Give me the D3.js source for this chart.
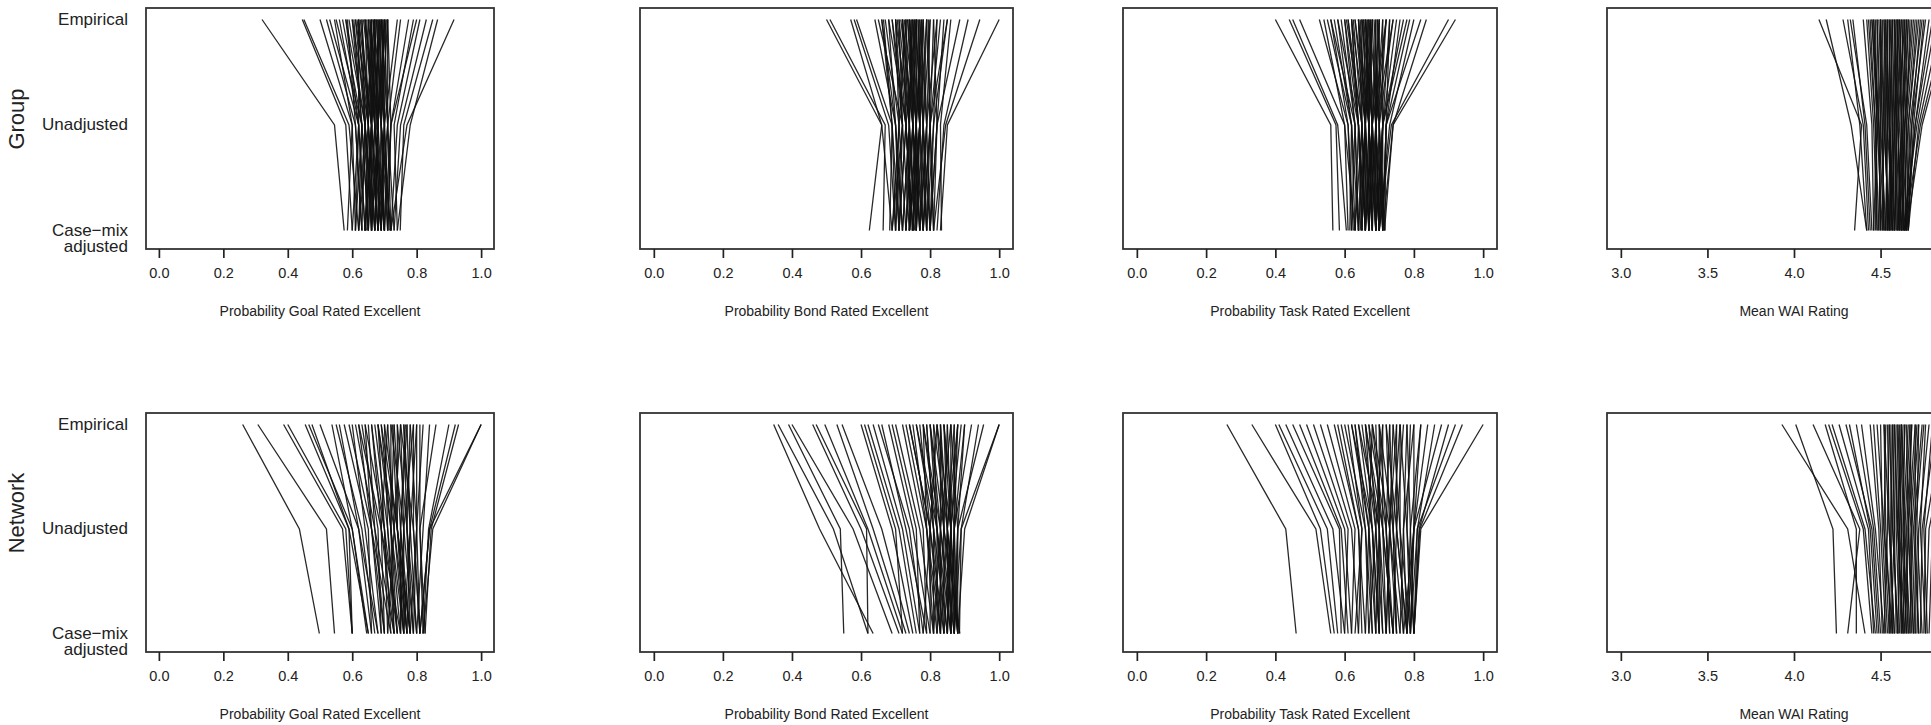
<!DOCTYPE html>
<html>
<head>
<meta charset="utf-8">
<script src="https://cdn.jsdelivr.net/npm/d3@7"></script>
<style>
  html, body { margin: 0; padding: 0; background: #fff; }
  svg { display: block; font-family: "Liberation Sans", Arial, sans-serif; }
</style>
</head>
<body>
<svg id="chart" width="1931" height="725"></svg>
<script>
// ---- categories / labels ----
const stages = ["Empirical", "Unadjusted", "Case-mix"];
const stageLabels = [["Empirical"], ["Unadjusted"], ["Case\u2212mix", "adjusted"]];
const rowLabels = ["Group", "Network"];
const xTitles = ["Probability Goal Rated Excellent", "Probability Bond Rated Excellent",
                 "Probability Task Rated Excellent", "Mean WAI Rating"];
const probTicks = [0.0, 0.2, 0.4, 0.6, 0.8, 1.0];
const waiTicks = [3.0, 3.5, 4.0, 4.5, 5.0];

// ---- data: each line = [empirical, unadjusted, case-mix adjusted] ----
const groupGoal = [
 [0.32,0.545,0.575],[0.445,0.58,0.60],[0.45,0.59,0.62],[0.50,0.60,0.585],[0.52,0.61,0.63],
 [0.53,0.62,0.60],[0.545,0.60,0.61],[0.55,0.63,0.65],[0.56,0.62,0.64],[0.57,0.63,0.62],
 [0.58,0.64,0.66],[0.585,0.61,0.63],[0.59,0.64,0.67],[0.60,0.65,0.64],[0.605,0.63,0.61],
 [0.61,0.66,0.68],[0.62,0.64,0.66],[0.625,0.66,0.65],[0.63,0.65,0.68],[0.64,0.67,0.69],
 [0.645,0.66,0.64],[0.65,0.68,0.70],[0.655,0.67,0.66],[0.66,0.66,0.68],[0.665,0.68,0.67],
 [0.67,0.67,0.69],[0.675,0.69,0.70],[0.68,0.68,0.66],[0.685,0.69,0.71],[0.69,0.68,0.67],
 [0.695,0.70,0.69],[0.70,0.69,0.72],[0.705,0.70,0.68],[0.71,0.69,0.70],[0.71,0.71,0.72],
 [0.74,0.70,0.69],[0.75,0.71,0.73],[0.775,0.72,0.70],[0.79,0.73,0.74],[0.80,0.72,0.71],
 [0.81,0.74,0.72],[0.83,0.75,0.73],[0.85,0.76,0.749],[0.865,0.78,0.74],[0.916,0.77,0.72],
 [0.67,0.66,0.645],[0.68,0.675,0.70],[0.69,0.70,0.715],[0.66,0.65,0.62],[0.70,0.68,0.66],
 [0.60,0.63,0.65],[0.61,0.64,0.62],[0.615,0.65,0.67],[0.62,0.66,0.64],[0.63,0.64,0.63],
 [0.635,0.67,0.70],[0.64,0.65,0.66],[0.65,0.66,0.69],[0.655,0.69,0.68],[0.66,0.67,0.65],
 [0.665,0.70,0.71],[0.67,0.68,0.68],[0.675,0.66,0.66],[0.68,0.70,0.69],[0.685,0.67,0.70],
 [0.69,0.71,0.68],[0.695,0.69,0.72],[0.70,0.71,0.70],[0.705,0.68,0.67],[0.71,0.72,0.71],
 [0.62,0.62,0.61],[0.58,0.62,0.64],[0.64,0.68,0.67],[0.67,0.64,0.65],[0.69,0.66,0.64]
];
const groupBond = [
 [0.50,0.66,0.624],[0.51,0.67,0.664],[0.57,0.66,0.69],[0.58,0.68,0.70],[0.587,0.69,0.683],
 [0.64,0.70,0.71],[0.65,0.72,0.69],[0.66,0.70,0.72],[0.67,0.71,0.73],[0.68,0.73,0.71],
 [0.69,0.72,0.74],[0.70,0.74,0.72],[0.705,0.73,0.75],[0.71,0.72,0.70],[0.715,0.75,0.76],
 [0.72,0.74,0.73],[0.725,0.76,0.75],[0.73,0.73,0.71],[0.735,0.75,0.77],[0.74,0.76,0.74],
 [0.745,0.74,0.76],[0.75,0.77,0.75],[0.755,0.75,0.78],[0.76,0.76,0.74],[0.765,0.78,0.77],
 [0.77,0.77,0.79],[0.775,0.76,0.75],[0.78,0.79,0.78],[0.79,0.78,0.80],[0.795,0.80,0.79],
 [0.80,0.79,0.77],[0.81,0.80,0.81],[0.82,0.81,0.80],[0.83,0.80,0.78],[0.84,0.82,0.81],
 [0.85,0.81,0.79],[0.86,0.83,0.833],[0.886,0.82,0.80],[0.91,0.84,0.82],[0.944,0.845,0.81],
 [1.0,0.85,0.83],[0.74,0.75,0.73],[0.75,0.74,0.755],[0.76,0.77,0.76],[0.72,0.73,0.745],
 [0.78,0.77,0.76],[0.70,0.71,0.69],[0.665,0.69,0.70],
 [0.68,0.70,0.72],[0.69,0.73,0.75],[0.70,0.72,0.71],[0.71,0.74,0.74],[0.72,0.75,0.77],
 [0.73,0.74,0.72],[0.735,0.76,0.76],[0.74,0.77,0.78],[0.745,0.75,0.74],[0.75,0.76,0.77],
 [0.755,0.78,0.79],[0.76,0.75,0.73],[0.765,0.77,0.75],[0.77,0.79,0.80],[0.775,0.78,0.76],
 [0.78,0.76,0.78],[0.79,0.80,0.81],[0.80,0.78,0.79],[0.81,0.82,0.80],[0.82,0.79,0.77],
 [0.66,0.69,0.71],[0.85,0.80,0.78],[0.73,0.71,0.70],[0.76,0.73,0.75],[0.79,0.77,0.74]
];
const groupTask = [
 [0.40,0.56,0.566],[0.44,0.575,0.585],[0.45,0.58,0.605],[0.47,0.60,0.61],[0.527,0.61,0.62],
 [0.54,0.60,0.63],[0.55,0.62,0.615],[0.56,0.63,0.64],[0.57,0.62,0.63],[0.58,0.64,0.65],
 [0.59,0.63,0.62],[0.60,0.64,0.66],[0.605,0.65,0.64],[0.61,0.64,0.65],[0.62,0.66,0.67],
 [0.625,0.65,0.66],[0.63,0.66,0.645],[0.64,0.67,0.68],[0.645,0.66,0.67],[0.65,0.67,0.66],
 [0.655,0.68,0.69],[0.66,0.67,0.68],[0.665,0.66,0.65],[0.67,0.68,0.67],[0.675,0.67,0.69],
 [0.68,0.69,0.70],[0.69,0.68,0.67],[0.695,0.69,0.68],[0.70,0.70,0.71],[0.71,0.69,0.70],
 [0.72,0.70,0.69],[0.73,0.71,0.70],[0.74,0.70,0.716],[0.75,0.71,0.69],[0.76,0.72,0.71],
 [0.77,0.71,0.70],[0.788,0.72,0.71],[0.80,0.73,0.70],[0.82,0.72,0.716],[0.836,0.74,0.71],
 [0.90,0.735,0.70],[0.92,0.74,0.715],[0.64,0.65,0.63],[0.66,0.68,0.66],[0.68,0.66,0.68],
 [0.70,0.68,0.69],[0.62,0.64,0.66],[0.72,0.69,0.71],
 [0.60,0.63,0.64],[0.61,0.65,0.66],[0.62,0.64,0.63],[0.63,0.67,0.69],[0.64,0.66,0.66],
 [0.65,0.68,0.70],[0.655,0.66,0.64],[0.66,0.69,0.69],[0.665,0.67,0.67],[0.67,0.70,0.71],
 [0.675,0.68,0.66],[0.68,0.67,0.68],[0.685,0.70,0.70],[0.69,0.69,0.69],[0.695,0.71,0.71],
 [0.70,0.69,0.67],[0.71,0.71,0.70],[0.72,0.68,0.68],[0.73,0.72,0.71],[0.74,0.69,0.70],
 [0.58,0.62,0.64],[0.56,0.61,0.625],[0.78,0.71,0.69],[0.65,0.65,0.67],[0.67,0.66,0.65]
];
const groupWAI = [
 [4.144,4.39,4.35],[4.186,4.33,4.42],[4.283,4.40,4.43],[4.31,4.38,4.42],[4.325,4.42,4.45],
 [4.34,4.41,4.44],[4.40,4.45,4.46],[4.42,4.46,4.48],[4.44,4.47,4.49],[4.45,4.48,4.47],
 [4.46,4.49,4.50],[4.47,4.48,4.51],[4.48,4.50,4.49],[4.49,4.51,4.52],[4.50,4.50,4.53],
 [4.51,4.52,4.51],[4.52,4.53,4.54],[4.53,4.52,4.55],[4.54,4.54,4.53],[4.55,4.55,4.56],
 [4.56,4.54,4.57],[4.57,4.56,4.55],[4.58,4.57,4.58],[4.59,4.58,4.56],[4.60,4.59,4.60],
 [4.61,4.58,4.59],[4.62,4.60,4.61],[4.63,4.61,4.58],[4.64,4.60,4.62],[4.65,4.62,4.60],
 [4.66,4.63,4.63],[4.68,4.64,4.61],[4.70,4.65,4.64],[4.72,4.66,4.62],[4.74,4.67,4.65],
 [4.76,4.68,4.66],[4.80,4.70,4.64],[4.85,4.72,4.66],[4.90,4.74,4.65],[4.55,4.56,4.54],
 [4.50,4.52,4.55],[4.60,4.58,4.57],[4.45,4.49,4.52],[4.65,4.63,4.61],
 [4.48,4.49,4.50],[4.50,4.51,4.52],[4.52,4.54,4.53],[4.53,4.55,4.57],[4.54,4.53,4.54],
 [4.56,4.57,4.56],[4.57,4.55,4.58],[4.58,4.59,4.59],[4.59,4.57,4.55],[4.60,4.60,4.62],
 [4.61,4.62,4.60],[4.62,4.59,4.58],[4.63,4.62,4.63],[4.64,4.63,4.60],[4.66,4.64,4.62],
 [4.67,4.65,4.64],[4.69,4.64,4.63],[4.71,4.66,4.65],[4.73,4.68,4.64],[4.75,4.69,4.66],
 [4.43,4.47,4.48],[4.46,4.48,4.46],[4.78,4.70,4.65],[4.82,4.71,4.63],[4.88,4.73,4.64]
];
const networkGoal = [
 [0.26,0.436,0.498],[0.307,0.52,0.545],[0.387,0.57,0.60],[0.40,0.58,0.60],[0.454,0.59,0.60],
 [0.465,0.60,0.645],[0.475,0.59,0.65],[0.50,0.62,0.66],[0.537,0.60,0.65],[0.55,0.63,0.67],
 [0.56,0.62,0.68],[0.575,0.65,0.66],[0.59,0.66,0.69],[0.60,0.64,0.68],[0.61,0.67,0.70],
 [0.62,0.66,0.72],[0.63,0.68,0.69],[0.64,0.70,0.71],[0.65,0.67,0.73],[0.66,0.69,0.70],
 [0.67,0.71,0.74],[0.68,0.70,0.72],[0.69,0.72,0.75],[0.70,0.71,0.73],[0.71,0.73,0.76],
 [0.72,0.72,0.74],[0.725,0.74,0.77],[0.73,0.75,0.75],[0.74,0.74,0.78],[0.75,0.76,0.76],
 [0.76,0.77,0.79],[0.765,0.75,0.77],[0.77,0.78,0.80],[0.78,0.77,0.78],[0.79,0.79,0.81],
 [0.80,0.80,0.79],[0.81,0.81,0.82],[0.84,0.82,0.80],[0.86,0.81,0.826],[0.90,0.837,0.82],
 [0.92,0.84,0.81],[0.93,0.845,0.826],[1.0,0.85,0.82],[1.0,0.84,0.81],[0.71,0.69,0.75],
 [0.75,0.73,0.71],[0.68,0.72,0.76],[0.80,0.78,0.77],
 [0.66,0.70,0.74],[0.68,0.73,0.77],[0.70,0.74,0.78],[0.72,0.76,0.79],[0.73,0.72,0.73],
 [0.74,0.77,0.80],[0.76,0.78,0.76],[0.77,0.75,0.78],[0.78,0.80,0.81],[0.79,0.76,0.75],
 [0.62,0.69,0.73],[0.64,0.66,0.70],[0.82,0.80,0.78],[0.75,0.79,0.81],[0.69,0.74,0.76]
];
const networkBond = [
 [0.347,0.48,0.635],[0.36,0.52,0.62],[0.39,0.54,0.55],[0.40,0.577,0.69],[0.46,0.60,0.71],
 [0.47,0.616,0.62],[0.495,0.62,0.72],[0.53,0.635,0.73],[0.545,0.66,0.74],[0.60,0.69,0.75],
 [0.61,0.70,0.72],[0.62,0.71,0.76],[0.635,0.72,0.77],[0.65,0.74,0.78],[0.66,0.73,0.79],
 [0.68,0.75,0.80],[0.69,0.76,0.77],[0.70,0.77,0.81],[0.72,0.78,0.79],[0.73,0.79,0.82],
 [0.74,0.80,0.80],[0.75,0.79,0.83],[0.76,0.81,0.81],[0.77,0.80,0.84],[0.78,0.82,0.82],
 [0.79,0.81,0.85],[0.80,0.83,0.83],[0.81,0.82,0.86],[0.82,0.84,0.84],[0.83,0.83,0.87],
 [0.84,0.85,0.85],[0.85,0.84,0.886],[0.86,0.86,0.86],[0.87,0.85,0.88],[0.88,0.87,0.87],
 [0.89,0.86,0.85],[0.90,0.88,0.88],[0.92,0.87,0.86],[0.94,0.89,0.885],[0.955,0.88,0.87],
 [1.0,0.90,0.88],[1.0,0.89,0.87],[0.82,0.80,0.78],[0.84,0.86,0.84],[0.86,0.83,0.81],
 [0.80,0.82,0.85],[0.88,0.85,0.83],[0.78,0.79,0.81],
 [0.78,0.83,0.86],[0.80,0.84,0.87],[0.81,0.85,0.88],[0.82,0.86,0.87],[0.83,0.85,0.86],
 [0.84,0.87,0.88],[0.85,0.86,0.85],[0.86,0.88,0.87],[0.87,0.87,0.86],[0.88,0.86,0.88],
 [0.76,0.82,0.84],[0.74,0.80,0.83],[0.90,0.87,0.86],[0.83,0.84,0.82],[0.79,0.81,0.83]
];
const networkTask = [
 [0.26,0.43,0.46],[0.332,0.517,0.56],[0.40,0.53,0.57],[0.41,0.55,0.58],[0.43,0.566,0.60],
 [0.45,0.585,0.59],[0.47,0.59,0.61],[0.49,0.60,0.62],[0.51,0.61,0.60],[0.53,0.62,0.64],
 [0.55,0.63,0.62],[0.57,0.64,0.65],[0.59,0.65,0.63],[0.60,0.66,0.67],[0.62,0.67,0.66],
 [0.63,0.66,0.68],[0.64,0.68,0.69],[0.65,0.69,0.67],[0.66,0.70,0.70],[0.67,0.69,0.71],
 [0.68,0.71,0.72],[0.69,0.70,0.69],[0.70,0.72,0.73],[0.71,0.71,0.74],[0.72,0.73,0.72],
 [0.73,0.74,0.75],[0.74,0.73,0.76],[0.75,0.75,0.74],[0.76,0.76,0.77],[0.77,0.75,0.78],
 [0.78,0.77,0.76],[0.79,0.78,0.79],[0.80,0.77,0.78],[0.82,0.79,0.80],[0.84,0.80,0.79],
 [0.86,0.81,0.80],[0.88,0.80,0.78],[0.90,0.815,0.80],[0.92,0.81,0.79],[0.94,0.817,0.80],
 [1.0,0.82,0.80],[0.58,0.64,0.66],[0.61,0.65,0.64],[0.66,0.68,0.70],[0.70,0.70,0.71],
 [0.73,0.72,0.74],[0.76,0.74,0.75],[0.68,0.67,0.68],
 [0.62,0.68,0.70],[0.64,0.70,0.72],[0.66,0.71,0.74],[0.68,0.73,0.75],[0.70,0.74,0.77],
 [0.72,0.75,0.78],[0.74,0.76,0.79],[0.76,0.78,0.80],[0.78,0.79,0.78],[0.80,0.80,0.79],
 [0.67,0.72,0.73],[0.71,0.69,0.70],[0.75,0.73,0.72],[0.82,0.80,0.77],[0.63,0.67,0.69]
];
const networkWAI = [
 [3.93,4.31,4.41],[4.01,4.225,4.245],[4.11,4.38,4.31],[4.18,4.36,4.36],[4.20,4.40,4.45],
 [4.22,4.41,4.47],[4.26,4.43,4.46],[4.30,4.45,4.49],[4.32,4.44,4.48],[4.36,4.46,4.50],
 [4.39,4.47,4.52],[4.44,4.49,4.51],[4.46,4.50,4.53],[4.48,4.52,4.55],[4.50,4.51,4.54],
 [4.52,4.53,4.56],[4.54,4.55,4.58],[4.56,4.56,4.57],[4.58,4.57,4.60],[4.60,4.59,4.61],
 [4.62,4.60,4.63],[4.64,4.62,4.62],[4.66,4.63,4.65],[4.68,4.65,4.66],[4.70,4.66,4.68],
 [4.72,4.68,4.67],[4.75,4.70,4.70],[4.78,4.72,4.71],[4.82,4.74,4.73],[4.86,4.76,4.75],
 [4.90,4.78,4.76],[4.95,4.80,4.78],[5.0,4.82,4.80],[4.55,4.54,4.52],[4.59,4.58,4.59],
 [4.63,4.61,4.64],[4.67,4.64,4.63],[4.71,4.67,4.69],[4.74,4.69,4.72],[4.53,4.52,4.57],
 [4.57,4.56,4.55],[4.61,4.60,4.62],
 [4.55,4.57,4.60],[4.58,4.60,4.63],[4.60,4.62,4.65],[4.62,4.64,4.67],[4.65,4.66,4.69],
 [4.67,4.68,4.70],[4.70,4.70,4.72],[4.72,4.71,4.74],[4.64,4.63,4.66],[4.68,4.66,4.64],
 [4.76,4.73,4.76],[4.80,4.75,4.77],[4.52,4.55,4.58],[4.57,4.58,4.56],[4.62,4.61,4.60]
];

const rowsData = [
  [groupGoal, groupBond, groupTask, groupWAI],
  [networkGoal, networkBond, networkTask, networkWAI]
];

// ---- layout ----
const W = 1931;
const svg = d3.select("#chart");
const rowBoxes = [{top: 8, bottom: 249}, {top: 413, bottom: 652}];
const colBoxes = [{left: 146, right: 494}, {left: 640, right: 1013},
                  {left: 1123, right: 1497}, {left: 1607, right: 1981}];
const probDomain = [-0.04, 1.04];
const waiDomain = [2.92, 5.08];

const line = d3.line();

rowBoxes.forEach((rb, ri) => {
  const y = d3.scalePoint().domain(stages).range([rb.top + 11.5, rb.bottom - 18.5]);

  colBoxes.forEach((cb, ci) => {
    const isWAI = ci === 3;
    const x = d3.scaleLinear().domain(isWAI ? waiDomain : probDomain).range([cb.left, cb.right]);
    const g = svg.append("g");

    // lines
    g.append("g").selectAll("path")
      .data(rowsData[ri][ci])
      .join("path")
      .attr("d", d => line(d.map((v, k) => [x(v), y(stages[k])])))
      .attr("fill", "none")
      .attr("stroke", "#111")
      .attr("stroke-opacity", 0.9)
      .attr("stroke-width", 1.3);

    // box
    g.append("rect")
      .attr("x", cb.left).attr("y", rb.top)
      .attr("width", cb.right - cb.left).attr("height", rb.bottom - rb.top)
      .attr("fill", "none").attr("stroke", "#333").attr("stroke-width", 1.8);

    // x axis (only ticks that fall inside the page)
    const ticks = (isWAI ? waiTicks : probTicks).filter(t => x(t) + 12 < W);
    const axis = d3.axisBottom(x)
      .tickValues(ticks)
      .tickFormat(d3.format(".1f"))
      .tickSize(9).tickPadding(10);
    const ax = g.append("g").attr("transform", `translate(0,${rb.bottom})`).call(axis);
    ax.select(".domain").remove();
    ax.selectAll(".tick line").attr("stroke", "#222").attr("stroke-width", 1.7);
    ax.selectAll(".tick text").attr("font-size", 14.5).attr("fill", "#222")
      .attr("font-family", "Liberation Sans, Arial, sans-serif");

    // x title
    g.append("text")
      .attr("x", (x(isWAI ? 4.0 : 0.5)))
      .attr("y", rb.bottom + 63)
      .attr("text-anchor", "middle")
      .attr("dominant-baseline", "middle")
      .attr("font-size", 14).attr("fill", "#222")
      .text(xTitles[ci]);

    // y labels on first column
    if (ci === 0) {
      stageLabels.forEach((lines, k) => {
        lines.forEach((t, j) => {
          g.append("text")
            .attr("x", 128)
            .attr("y", y(stages[k]) + 1 + j * 16.5)
            .attr("text-anchor", "end")
            .attr("dominant-baseline", "middle")
            .attr("font-size", 17).attr("fill", "#222")
            .text(t);
        });
      });
      g.append("text")
        .attr("transform", `translate(18,${ri === 0 ? 119 : 513}) rotate(-90)`)
        .attr("text-anchor", "middle")
        .attr("dominant-baseline", "middle")
        .attr("font-size", 22).attr("fill", "#222")
        .text(rowLabels[ri]);
    }
  });
});
</script>
</body>
</html>
